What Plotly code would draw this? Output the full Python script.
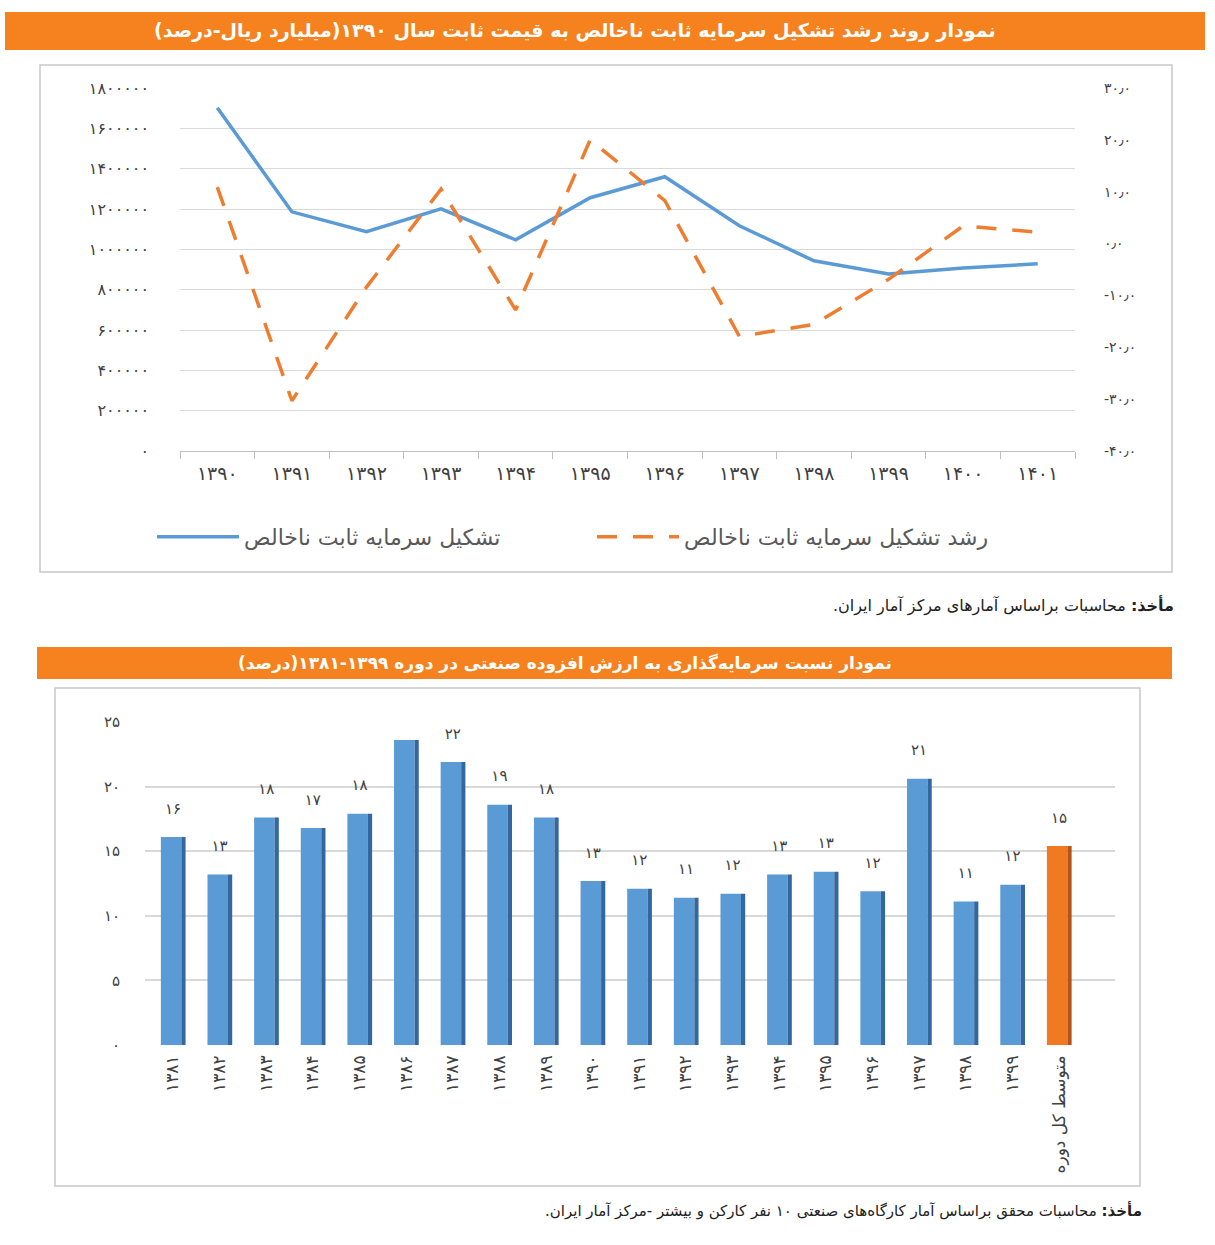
import plotly.graph_objects as go

W, H = 1215, 1245
FONT = "DejaVu Sans"
FA = str.maketrans("0123456789.-", "۰۱۲۳۴۵۶۷۸۹٫-")


def fa(s):
    return str(s).translate(FA)


# ---------------- data: chart 1 ----------------
years1 = ["1390", "1391", "1392", "1393", "1394", "1395",
          "1396", "1397", "1398", "1399", "1400", "1401"]
gfcf = [1702000, 1186000, 1087000, 1201000, 1047000, 1256000,
        1360000, 1117000, 943000, 878000, 908000, 928000]
gfcf_growth = [10.9, -30.3, -8.4, 10.5, -12.8, 20.0,
               8.3, -17.9, -15.6, -6.9, 3.4, 2.2]
left_ticks = [0, 200000, 400000, 600000, 800000, 1000000,
              1200000, 1400000, 1600000, 1800000]
right_ticks = [-40, -30, -20, -10, 0, 10, 20, 30]

name_level = "تشکیل سرمایه ثابت ناخالص"
name_growth = "رشد تشکیل سرمایه ثابت ناخالص"

# ---------------- data: chart 2 ----------------
years2 = ["1381", "1382", "1383", "1384", "1385", "1386", "1387", "1388",
          "1389", "1390", "1391", "1392", "1393", "1394", "1395", "1396",
          "1397", "1398", "1399"]
avg_label = "متوسط کل دوره"
ratio = [16.1, 13.2, 17.6, 16.8, 17.9, 23.6, 21.9, 18.6, 17.6, 12.7,
         12.1, 11.4, 11.7, 13.2, 13.4, 11.9, 20.6, 11.1, 12.4, 15.4]
ratio_ticks = [0, 5, 10, 15, 20, 25]

title1 = "نمودار روند رشد تشکیل سرمایه ثابت ناخالص به قیمت ثابت سال ۱۳۹۰(میلیارد ریال-درصد)"
title2 = "نمودار نسبت سرمایه‌گذاری به ارزش افزوده صنعتی در دوره ۱۳۹۹-۱۳۸۱(درصد)"
source1 = "<b>مأخذ:</b> محاسبات براساس آمارهای مرکز آمار ایران."
source2 = "<b>مأخذ:</b> محاسبات محقق براساس آمار کارگاه‌های صنعتی ۱۰ نفر کارکن و بیشتر -مرکز آمار ایران."

RLM = "\u200f"


def px_x(p):
    return p / W


def px_y(p):
    return 1 - p / H


cats1 = [fa(y) for y in years1]
cats2 = [fa(y) for y in years2] + [avg_label]

BLUE = "#5B9BD5"
ORANGE = "#ED7D31"
GRID = "#D9D9D9"
TXT = "#404040"

fig = go.Figure()

fig.add_trace(go.Scatter(
    x=cats1, y=gfcf, name=name_level, mode="lines",
    line=dict(color=BLUE, width=3.5), xaxis="x", yaxis="y"))
fig.add_trace(go.Scatter(
    x=cats1, y=gfcf_growth, name=name_growth, mode="lines",
    line=dict(color=ORANGE, width=3.5, dash="20px,16px"), xaxis="x", yaxis="y2"))

front_cols = [BLUE] * len(years2) + ["#F07A22"]
side_cols = ["#34679F"] * len(years2) + ["#B5541A"]

fig.add_trace(go.Bar(
    x=cats2, y=ratio, width=0.44, offset=-0.26,
    marker=dict(color=front_cols, line=dict(width=0)),
    xaxis="x3", yaxis="y3", showlegend=False, hoverinfo="skip"))
fig.add_trace(go.Bar(
    x=cats2, y=ratio, width=0.09, offset=0.18,
    marker=dict(color=side_cols, line=dict(width=0)),
    xaxis="x3", yaxis="y3", showlegend=False, hoverinfo="skip"))
fig.add_trace(go.Scatter(
    x=cats2, y=[v + 2.1 for v in ratio], mode="text",
    text=[fa(round(v)) for v in ratio],
    textfont=dict(family=FONT, size=15, color=TXT),
    xaxis="x3", yaxis="y3", showlegend=False, hoverinfo="skip"))

shapes = [
    dict(type="rect", xref="paper", yref="paper",
         x0=px_x(5), x1=px_x(1205), y0=px_y(50), y1=px_y(12),
         fillcolor="#F5821F", line=dict(width=0), layer="below"),
    dict(type="rect", xref="paper", yref="paper",
         x0=px_x(40), x1=px_x(1172), y0=px_y(572), y1=px_y(65),
         line=dict(color="#C8C8C8", width=1.5), layer="below"),
    dict(type="rect", xref="paper", yref="paper",
         x0=px_x(37), x1=px_x(1172), y0=px_y(679), y1=px_y(647),
         fillcolor="#F5821F", line=dict(width=0), layer="below"),
    dict(type="rect", xref="paper", yref="paper",
         x0=px_x(55), x1=px_x(1140), y0=px_y(1186), y1=px_y(688),
         line=dict(color="#C8C8C8", width=1.5), layer="below"),
]

annotations = [
    dict(text=RLM + "<b>" + title1 + "</b>" + RLM, x=px_x(575), y=px_y(31),
         xanchor="center", yanchor="middle",
         xref="paper", yref="paper", showarrow=False,
         font=dict(family=FONT, size=19, color="white")),
    dict(text=RLM + "<b>" + title2 + "</b>" + RLM, x=px_x(565), y=px_y(663),
         xanchor="center", yanchor="middle",
         xref="paper", yref="paper", showarrow=False,
         font=dict(family=FONT, size=17, color="white")),
    dict(text=RLM + source1 + RLM, x=px_x(1176), y=px_y(606),
         xanchor="right", yanchor="middle",
         xref="paper", yref="paper", showarrow=False,
         font=dict(family=FONT, size=16, color="#222222")),
    dict(text=RLM + source2 + RLM, x=px_x(1144), y=px_y(1210),
         xanchor="right", yanchor="middle",
         xref="paper", yref="paper", showarrow=False,
         font=dict(family=FONT, size=15, color="#222222")),
]

fig.update_layout(
    width=W, height=H,
    margin=dict(l=0, r=0, t=0, b=0, autoexpand=False),
    paper_bgcolor="white", plot_bgcolor="white",
    font=dict(family=FONT, color=TXT),
    barmode="overlay",
    shapes=shapes,
    annotations=annotations,
    legend=dict(orientation="h", x=px_x(152), y=px_y(537),
                xanchor="left", yanchor="middle",
                font=dict(family=FONT, size=22, color="#595959"),
                itemwidth=82, entrywidth=343, entrywidthmode="pixels",
                bgcolor="rgba(0,0,0,0)"),
    xaxis=dict(domain=[px_x(180), px_x(1075)], anchor="y",
               type="category", range=[-0.5, 11.5],
               showgrid=False, showline=True,
               linecolor="#BFBFBF", ticks="outside", ticklen=7,
               tickcolor="#BFBFBF", tickson="boundaries",
               tickfont=dict(size=19, color=TXT), ticklabelstandoff=5),
    yaxis=dict(domain=[px_y(451), px_y(88)], anchor="x",
               range=[0, 1800000], tickvals=left_ticks,
               ticktext=[fa(v) for v in left_ticks],
               showgrid=True, gridcolor=GRID, gridwidth=1,
               zeroline=False, showline=False,
               tickfont=dict(size=16, color=TXT), ticklabelstandoff=30),
    yaxis2=dict(overlaying="y", side="right", anchor="x",
                range=[-40, 30], tickvals=right_ticks,
                ticktext=[fa(f"{v:.1f}") for v in right_ticks],
                showgrid=False, zeroline=False, showline=False,
                tickfont=dict(size=14, color=TXT), ticklabelstandoff=28),
    xaxis3=dict(domain=[px_x(145), px_x(1115)], anchor="y3",
                type="category", range=[-0.6, 20.2],
                showgrid=False, showline=False, ticks="",
                tickangle=-90, tickfont=dict(size=17, color=TXT),
                ticklabelstandoff=6),
    yaxis3=dict(domain=[px_y(1045), px_y(722)], anchor="x3",
                range=[0, 25], tickvals=ratio_ticks,
                ticktext=[fa(v) for v in ratio_ticks],
                showgrid=True, gridcolor=GRID, gridwidth=1.5,
                zeroline=False, showline=False,
                tickfont=dict(size=15, color=TXT), ticklabelstandoff=24),
)

fig.write_html("out.html", config={"displayModeBar": False},
               post_script="document.body.style.margin='0';")
